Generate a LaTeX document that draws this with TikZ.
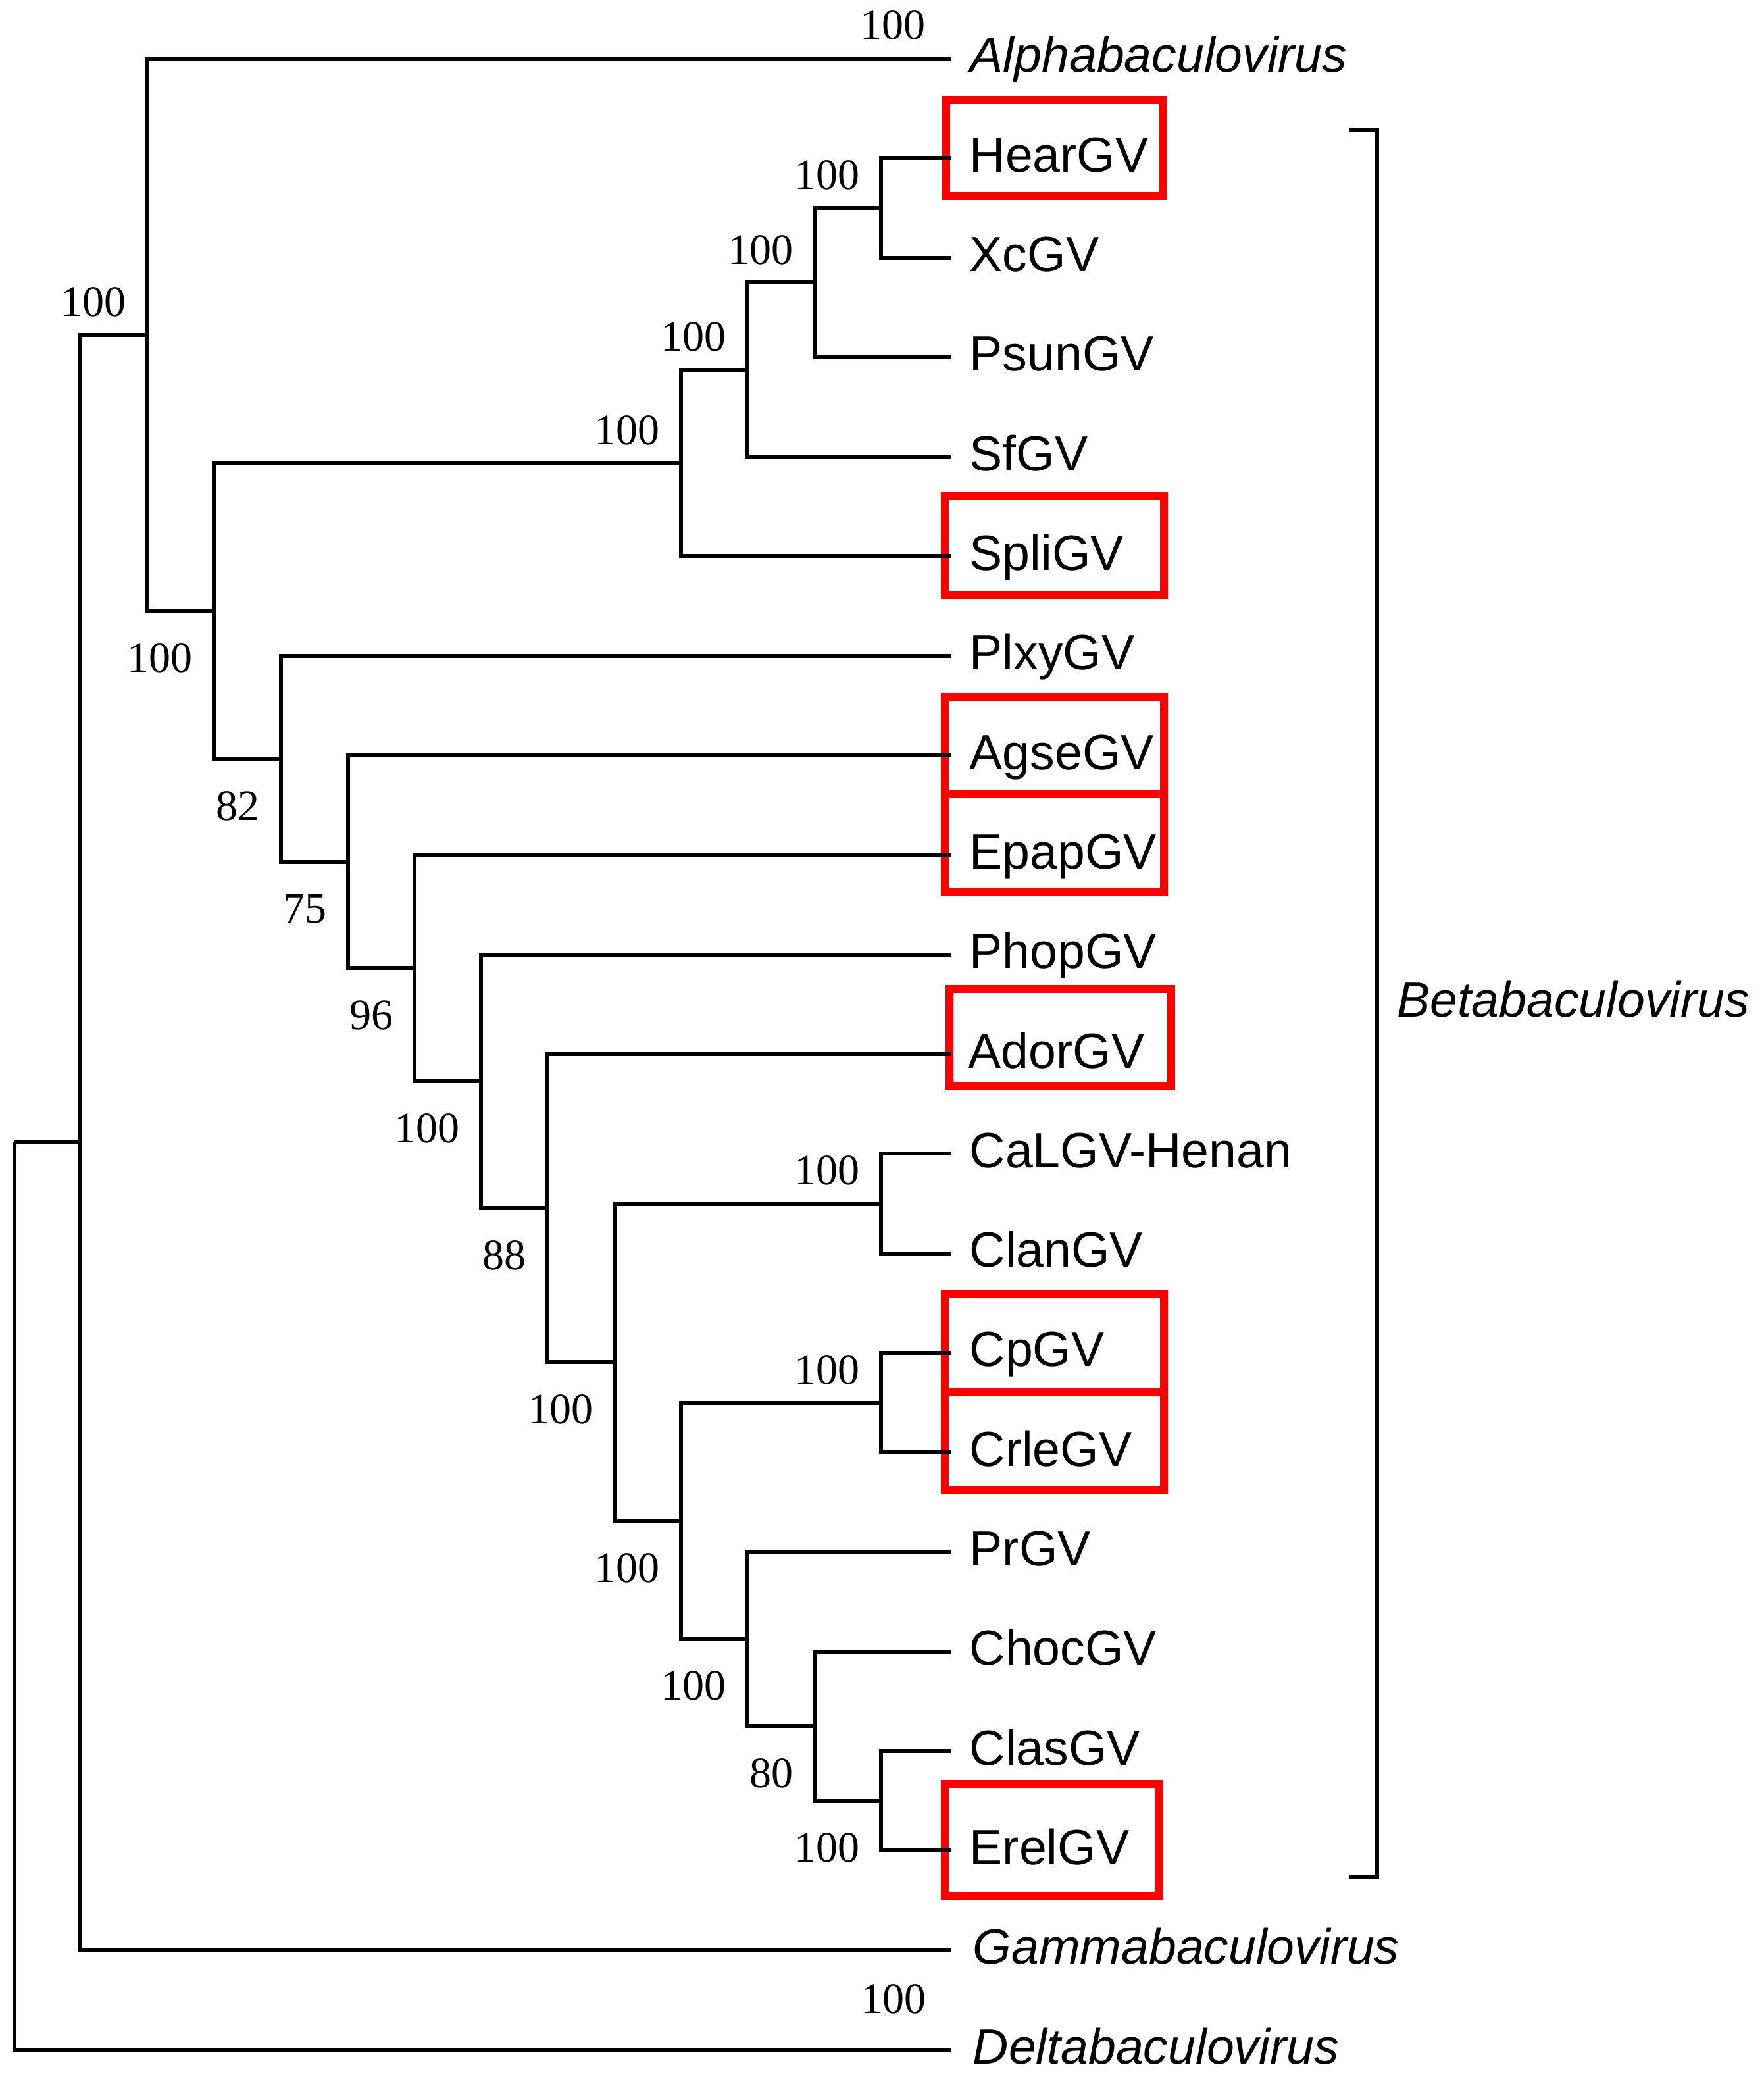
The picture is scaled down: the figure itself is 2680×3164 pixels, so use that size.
\documentclass[tikz,border=0pt]{standalone}
\usepackage{fontspec}
\setmainfont{Liberation Sans}
\newfontfamily\numfont{Liberation Serif}
\newcommand{\rowy}[1]{89+151.3*(#1)}
\begin{document}
\begin{tikzpicture}[x=0.25pt,y=-0.25pt,
  br/.style={line width=1.5pt, line join=miter},
  tip/.style={anchor=base west, inner sep=0pt, font=\fontsize{18.8}{22}\selectfont},
  itip/.style={anchor=base west, inner sep=0pt, font=\fontsize{18.8}{22}\selectfont\itshape},
  bs/.style={anchor=base east, inner sep=0pt, font=\numfont\fontsize{16.5}{19}\selectfont},
  hl/.style={draw=red, line width=3pt}]
\useasboundingbox (0,0) rectangle (2680,3164);

% ---------- highlight boxes ----------
\draw[hl] (1438,152) rectangle (1767,298);
\draw[hl] (1436,754) rectangle (1769,904);
\draw[hl] (1436,1059) rectangle (1769,1207);
\draw[hl] (1436,1207) rectangle (1769,1356);
\draw[hl] (1443,1503) rectangle (1780,1651);
\draw[hl] (1436,1966) rectangle (1769,2115);
\draw[hl] (1436,2115) rectangle (1769,2264);
\draw[hl] (1436,2711) rectangle (1762,2882);

% ---------- tip coordinates ----------
\coordinate (tAlpha) at (1446,{\rowy{0}});
\coordinate (tHear)  at (1446,{\rowy{1}});
\coordinate (tXc)    at (1446,{\rowy{2}});
\coordinate (tPsun)  at (1446,{\rowy{3}});
\coordinate (tSf)    at (1446,{\rowy{4}});
\coordinate (tSpli)  at (1446,{\rowy{5}});
\coordinate (tPlxy)  at (1446,{\rowy{6}});
\coordinate (tAgse)  at (1446,{\rowy{7}});
\coordinate (tEpap)  at (1446,{\rowy{8}});
\coordinate (tPhop)  at (1446,{\rowy{9}});
\coordinate (tAdor)  at (1446,{\rowy{10}});
\coordinate (tCaLGV) at (1446,{\rowy{11}});
\coordinate (tClan)  at (1446,{\rowy{12}});
\coordinate (tCp)    at (1446,{\rowy{13}});
\coordinate (tCrle)  at (1446,{\rowy{14}});
\coordinate (tPr)    at (1446,{\rowy{15}});
\coordinate (tChoc)  at (1446,{\rowy{16}});
\coordinate (tClas)  at (1446,{\rowy{17}});
\coordinate (tErel)  at (1446,{\rowy{18}});
\coordinate (tGamma) at (1446,{\rowy{19}});
\coordinate (tDelta) at (1446,{\rowy{20}});

% ---------- internal nodes ----------
\coordinate (N8)  at (1339,{\rowy{1.5}});
\coordinate (N7)  at (1238,{\rowy{2.25}});
\coordinate (N6)  at (1136,{\rowy{3.125}});
\coordinate (N4)  at (1035,{\rowy{4.0625}});
\coordinate (N19) at (1339,{\rowy{17.5}});
\coordinate (N18) at (1238,{\rowy{16.75}});
\coordinate (N17) at (1136,{\rowy{15.875}});
\coordinate (N16) at (1339,{\rowy{13.5}});
\coordinate (N15) at (1035,{\rowy{14.6875}});
\coordinate (N14) at (1339,{\rowy{11.5}});
\coordinate (N13) at (934,{\rowy{13.09375}});
\coordinate (N12) at (832,{\rowy{11.546875}});
\coordinate (N11) at (731,{\rowy{10.2734375}});
\coordinate (N10) at (630,{\rowy{9.13671875}});
\coordinate (N9)  at (529,{\rowy{8.068359375}});
\coordinate (N5)  at (427,{\rowy{7.0341796875}});
\coordinate (N3)  at (325,{\rowy{5.54833984375}});
\coordinate (N2)  at (224,{\rowy{2.774169921875}});
\coordinate (N1)  at (121,{\rowy{10.8870849609375}});
\coordinate (R0)  at (22,{\rowy{10.8870849609375}});

% ---------- branches ----------
\draw[br] (R0) |- (N1);
\draw[br] (R0) |- (tDelta);
\draw[br] (N1) |- (N2);
\draw[br] (N1) |- (tGamma);
\draw[br] (N2) |- (tAlpha);
\draw[br] (N2) |- (N3);
\draw[br] (N3) |- (N4);
\draw[br] (N3) |- (N5);
\draw[br] (N4) |- (N6);
\draw[br] (N4) |- (tSpli);
\draw[br] (N6) |- (N7);
\draw[br] (N6) |- (tSf);
\draw[br] (N7) |- (N8);
\draw[br] (N7) |- (tPsun);
\draw[br] (N8) |- (tHear);
\draw[br] (N8) |- (tXc);
\draw[br] (N5) |- (tPlxy);
\draw[br] (N5) |- (N9);
\draw[br] (N9) |- (tAgse);
\draw[br] (N9) |- (N10);
\draw[br] (N10) |- (tEpap);
\draw[br] (N10) |- (N11);
\draw[br] (N11) |- (tPhop);
\draw[br] (N11) |- (N12);
\draw[br] (N12) |- (tAdor);
\draw[br] (N12) |- (N13);
\draw[br] (N13) |- (N14);
\draw[br] (N13) |- (N15);
\draw[br] (N14) |- (tCaLGV);
\draw[br] (N14) |- (tClan);
\draw[br] (N15) |- (N16);
\draw[br] (N15) |- (N17);
\draw[br] (N16) |- (tCp);
\draw[br] (N16) |- (tCrle);
\draw[br] (N17) |- (tPr);
\draw[br] (N17) |- (N18);
\draw[br] (N18) |- (tChoc);
\draw[br] (N18) |- (N19);
\draw[br] (N19) |- (tClas);
\draw[br] (N19) |- (tErel);

% ---------- tip labels ----------
\node[itip] (lAlpha) at (1474,{\rowy{0}+21}) {Alphabaculovirus};
\node[tip] (lHear)  at (1473,{\rowy{1}+21}) {HearGV};
\node[tip] (lXc)    at (1473,{\rowy{2}+21}) {XcGV};
\node[tip] (lPsun)  at (1473,{\rowy{3}+21}) {PsunGV};
\node[tip] (lSf)    at (1473,{\rowy{4}+21}) {SfGV};
\node[tip] (lSpli)  at (1473,{\rowy{5}+21}) {SpliGV};
\node[tip] (lPlxy)  at (1473,{\rowy{6}+21}) {PlxyGV};
\node[tip] (lAgse)  at (1473,{\rowy{7}+21}) {AgseGV};
\node[tip] (lEpap)  at (1473,{\rowy{8}+21}) {EpapGV};
\node[tip] (lPhop)  at (1473,{\rowy{9}+21}) {PhopGV};
\node[tip] (lAdor)  at (1471,{\rowy{10}+21}) {AdorGV};
\node[tip] (lCaLGV) at (1473,{\rowy{11}+21}) {CaLGV-Henan};
\node[tip] (lClan)  at (1473,{\rowy{12}+21}) {ClanGV};
\node[tip] (lCp)    at (1473,{\rowy{13}+21}) {CpGV};
\node[tip] (lCrle)  at (1473,{\rowy{14}+21}) {CrleGV};
\node[tip] (lPr)    at (1473,{\rowy{15}+21}) {PrGV};
\node[tip] (lChoc)  at (1473,{\rowy{16}+21}) {ChocGV};
\node[tip] (lClas)  at (1473,{\rowy{17}+21}) {ClasGV};
\node[tip] (lErel)  at (1473,{\rowy{18}+21}) {ErelGV};
\node[itip] (lGamma) at (1478,{\rowy{19}+21}) {Gammabaculovirus};
\node[itip] (lDelta) at (1478,{\rowy{20}+21}) {Deltabaculovirus};

% ---------- clade bracket ----------
\coordinate (bTop) at (2050,198);
\coordinate (bBot) at (2050,2853);
\draw[br] (bTop) -- ++(43,0) |- (bBot);
\node[itip] (lBeta) at (2123,1545) {Betabaculovirus};

% ---------- bootstrap values ----------
\node[bs] (bAlpha) at (1407,60) {100};
\node[bs] (bDelta) at (1408,3059) {100};
\node[bs] (bN2)  at ({224-32},{\rowy{2.774169921875}-28}) {100};
\node[bs] (bN4)  at ({1035-32},{\rowy{4.0625}-28}) {100};
\node[bs] (bN6)  at ({1136-32},{\rowy{3.125}-28}) {100};
\node[bs] (bN7)  at ({1238-32},{\rowy{2.25}-28}) {100};
\node[bs] (bN8)  at ({1339-32},{\rowy{1.5}-28}) {100};
\node[bs] (bN14) at ({1339-32},{\rowy{11.5}-28}) {100};
\node[bs] (bN16) at ({1339-32},{\rowy{13.5}-28}) {100};
\node[bs] (bN3)  at ({325-32},{\rowy{5.54833984375}+93}) {100};
\node[bs] (bN5)  at ({427-32},{\rowy{7.0341796875}+93}) {82};
\node[bs] (bN9)  at ({529-32},{\rowy{8.068359375}+93}) {75};
\node[bs] (bN10) at ({630-32},{\rowy{9.13671875}+93}) {96};
\node[bs] (bN11) at ({731-32},{\rowy{10.2734375}+93}) {100};
\node[bs] (bN12) at ({832-32},{\rowy{11.546875}+93}) {88};
\node[bs] (bN13) at ({934-32},{\rowy{13.09375}+93}) {100};
\node[bs] (bN15) at ({1035-32},{\rowy{14.6875}+93}) {100};
\node[bs] (bN17) at ({1136-32},{\rowy{15.875}+93}) {100};
\node[bs] (bN18) at ({1238-32},{\rowy{16.75}+93}) {80};
\node[bs] (bN19) at ({1339-32},{\rowy{17.5}+93}) {100};
\end{tikzpicture}
\end{document}
